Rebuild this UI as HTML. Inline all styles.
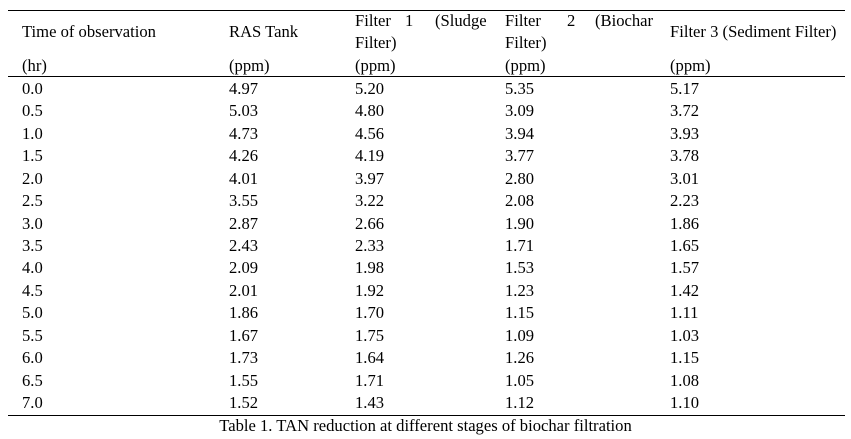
<!DOCTYPE html>
<html><head><meta charset="utf-8"><style>
body{margin:0;width:851px;height:439px;background:#fff;font-family:"Liberation Serif",serif;font-size:16.6px;color:#000;position:relative;overflow:hidden}
.t{position:absolute;white-space:nowrap;line-height:1}
.l{position:absolute;background:#000;height:1px;left:8px;width:837px}
</style></head><body>
<div class="l" style="top:10px"></div>
<div class="l" style="top:76px"></div>
<div class="l" style="top:415px"></div>
<div id="hdr">
<div class="t" style="left:22px;top:24px">Time of observation</div>
<div class="t" style="left:229px;top:24px">RAS Tank</div>
<div class="t" style="left:355px;top:13px">Filter</div><div class="t" style="left:405px;top:13px">1</div><div class="t" style="left:435px;top:13px">(Sludge</div>
<div class="t" style="left:355px;top:35px">Filter)</div>
<div class="t" style="left:505px;top:13px">Filter</div><div class="t" style="left:567px;top:13px">2</div><div class="t" style="left:595px;top:13px">(Biochar</div>
<div class="t" style="left:505px;top:35px">Filter)</div>
<div class="t" style="left:670px;top:24px">Filter 3 (Sediment Filter)</div>
<div class="t" style="left:22px;top:58px">(hr)</div>
<div class="t" style="left:229px;top:58px">(ppm)</div>
<div class="t" style="left:355px;top:58px">(ppm)</div>
<div class="t" style="left:505px;top:58px">(ppm)</div>
<div class="t" style="left:670px;top:58px">(ppm)</div>
</div>
<div id="body"></div>
<div class="t" style="left:0;width:851px;text-align:center;top:418px">Table 1. TAN reduction at different stages of biochar filtration</div>
<script>
const times=["0.0","0.5","1.0","1.5","2.0","2.5","3.0","3.5","4.0","4.5","5.0","5.5","6.0","6.5","7.0"];
const ras=["4.97","5.03","4.73","4.26","4.01","3.55","2.87","2.43","2.09","2.01","1.86","1.67","1.73","1.55","1.52"];
const f1=["5.20","4.80","4.56","4.19","3.97","3.22","2.66","2.33","1.98","1.92","1.70","1.75","1.64","1.71","1.43"];
const f2=["5.35","3.09","3.94","3.77","2.80","2.08","1.90","1.71","1.53","1.23","1.15","1.09","1.26","1.05","1.12"];
const f3=["5.17","3.72","3.93","3.78","3.01","2.23","1.86","1.65","1.57","1.42","1.11","1.03","1.15","1.08","1.10"];
const cols=[times,ras,f1,f2,f3];
const xs=[22,229,355,505,670];
const b=document.getElementById('body');
times.forEach((_,i)=>{
 cols.forEach((c,j)=>{
  const d=document.createElement('div');
  d.className='t';
  
  
  d.style.left=xs[j]+'px';
  d.style.top=(81+i*22.43)+'px';
  d.textContent=c[i];
  b.appendChild(d);
 });
});
</script>
</body></html>
